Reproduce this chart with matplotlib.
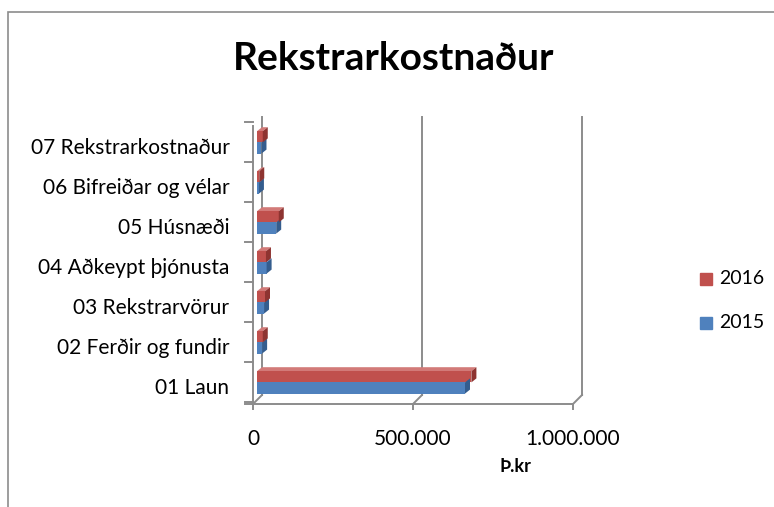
"""Rekstrarkostnaður - 3D-style clustered bar chart (2015 vs 2016)."""

import matplotlib.pyplot as plt
from matplotlib.patches import Polygon, Rectangle
from matplotlib.transforms import ScaledTranslation

categories = [
    "01 Laun",
    "02 Ferðir og fundir",
    "03 Rekstrarvörur",
    "04 Aðkeypt þjónusta",
    "05 Húsnæði",
    "06 Bifreiðar og vélar",
    "07 Rekstrarkostnaður",
]
values_2015 = [650000, 16000, 22000, 30000, 60000, 6000, 14000]
values_2016 = [670000, 18000, 25000, 28000, 68000, 7000, 18000]
x_ticks = [0, 500000, 1000000]
x_tick_labels = ["0", "500.000", "1.000.000"]

RED, RED_TOP, RED_SIDE = "#C0504D", "#D27A78", "#8E3431"
BLUE, BLUE_TOP, BLUE_SIDE = "#4F81BD", "#7FA3D1", "#345D8E"
GRID = "#8C8C8C"
FONT = "Lato"

fig = plt.figure(figsize=(7.74, 5.07), dpi=100)
W, H = 774, 507

# chart border (runs off the right and bottom of the image)
fig.patches.append(Rectangle((8 / W, -0.1), 1.2, 1 - 12 / H + 0.1,
                             transform=fig.transFigure, fill=False,
                             edgecolor=GRID, linewidth=1.2))

ax = fig.add_axes([253 / W, 1 - 404 / H, 320 / W, 280 / H])
ax.set_xlim(0, 1000000)
y_lo, y_hi = -0.55, 6.45
ax.set_ylim(y_lo, y_hi)
for s in ax.spines.values():
    s.set_visible(False)

# depth of the 3D box
back = ax.transData + ScaledTranslation(9 / 100, 9 / 100, fig.dpi_scale_trans)
px_x = 1000000 / 320
px_y = (y_hi - y_lo) / 280

# back wall verticals and floor diagonals
for xv in x_ticks:
    ax.plot([xv, xv], [y_lo, y_hi - 0.05], transform=back, color=GRID,
            lw=1.4, clip_on=False, zorder=1)
    ax.plot([xv, xv + 9 * px_x], [y_lo, y_lo + 9 * px_y], color=GRID,
            lw=1.4, clip_on=False, zorder=1)
# front bottom axis and front left axis
ax.plot([-8 * px_x, 1000000], [y_lo, y_lo], color=GRID, lw=1.4,
        clip_on=False, zorder=1)
ax.plot([0, 0], [y_lo, y_hi - 0.05], color=GRID, lw=1.4,
        clip_on=False, zorder=1)
for yb in [i + 0.5 for i in range(-1, 7)]:
    ax.plot([-8 * px_x, 0], [yb, yb], color=GRID, lw=1.4, clip_on=False)
for xv in x_ticks:
    ax.plot([xv, xv], [y_lo, y_lo - 5 * px_y], color=GRID, lw=1.4,
            clip_on=False)

# bars
h = 0.28
dx, dy = 5 * px_x, 4 * px_y
y = list(range(len(categories)))
x0 = 4 * px_x
for vals, off, front, top, side in [
    (values_2015, -0.15, BLUE, BLUE_TOP, BLUE_SIDE),
    (values_2016, 0.13, RED, RED_TOP, RED_SIDE),
]:
    centers = [c + off for c in y]
    ax.barh(centers, vals, height=h, left=x0, color=front, zorder=3)
    for c, v in zip(centers, vals):
        b, t, r = c - h / 2, c + h / 2, x0 + v
        ax.add_patch(Polygon([(x0, t), (r, t), (r + dx, t + dy), (x0 + dx, t + dy)],
                             closed=True, facecolor=top, edgecolor="none", zorder=2))
        ax.add_patch(Polygon([(r, b), (r + dx, b + dy), (r + dx, t + dy), (r, t)],
                             closed=True, facecolor=side, edgecolor="none", zorder=4))

ax.set_yticks([c - 0.1 for c in y])
ax.set_yticklabels(categories, fontsize=15, fontfamily=FONT)
ax.tick_params(axis="y", length=0, pad=17)
ax.set_xticks(x_ticks)
ax.set_xticklabels(x_tick_labels, fontsize=15, fontfamily=FONT)
ax.tick_params(axis="x", length=0, pad=18)

ax.text(0.82, -0.225, "Þ.kr", transform=ax.transAxes, ha="center", va="center",
        fontsize=13, fontweight="bold", fontfamily=FONT)

fig.text(394 / W, 1 - 58 / H, "Rekstrarkostnaður", ha="center", va="center",
         fontsize=28, fontweight="bold", fontfamily=FONT)

# legend
for yy, col, lab in [(279, RED, "2016"), (323, BLUE, "2015")]:
    fig.patches.append(Rectangle((700 / W, 1 - (yy + 6) / H), 12 / W, 12 / H,
                                 transform=fig.transFigure, color=col))
    fig.text(719 / W, 1 - yy / H, lab, ha="left", va="center",
             fontsize=14, fontfamily=FONT)

fig.savefig("out.png", dpi=100)
